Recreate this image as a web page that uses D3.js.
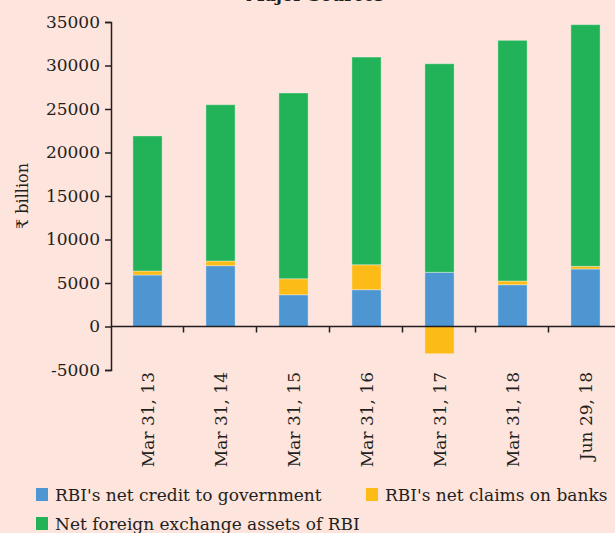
<!DOCTYPE html>
<html>
<head>
<meta charset="utf-8">
<script src="https://cdn.jsdelivr.net/npm/d3@7"></script>
<style>
  body { margin: 0; background: #fde4dc; }
  svg { display: block; }
</style>
</head>
<body>
<div id="my_dataviz"></div>
<script>
var categories = ["Mar 31, 13", "Mar 31, 14", "Mar 31, 15", "Mar 31, 16", "Mar 31, 17", "Mar 31, 18", "Jun 29, 18"];
var netCreditGovt = [5920, 6990, 3650, 4230, 6230, 4800, 6610];
var netClaimsBanks = [460, 540, 1840, 2870, -3130, 430, 310];
var netForeignAssets = [15520, 17960, 21350, 23870, 23970, 27660, 27770];
var seriesNames = ["RBI's net credit to government", "RBI's net claims on banks", "Net foreign exchange assets of RBI"];
var seriesColors = ["#4d96d2", "#fdbb18", "#22b257"];
var yTicks = [-5000, 0, 5000, 10000, 15000, 20000, 25000, 30000, 35000];

function draw_reserve_money_chart() {
    var width = 615, height = 533;
    var fontFamily = "'DejaVu Serif', serif";

    var rows = categories.map(function(c, i) {
        return { cat: c, s0: netCreditGovt[i], s1: netClaimsBanks[i], s2: netForeignAssets[i] };
    });

    var stack = d3.stack()
        .keys(["s0", "s1", "s2"])
        .offset(d3.stackOffsetDiverging);
    var layers = stack(rows);

    var svg = d3.select("#my_dataviz").append("svg")
        .attr("width", width)
        .attr("height", height)
        .style("background-color", "#fde4dc");

    var x = d3.scaleBand()
        .domain(categories)
        .range([111, 111 + 73 * categories.length])
        .paddingInner(0.6)
        .paddingOuter(0.3);

    var y = d3.scaleLinear()
        .domain([-5000, 35000])
        .range([370, 22]);

    // title, mostly cut off at the top edge (as in the source picture)
    svg.append("text")
        .attr("x", 246)
        .attr("y", 0.5)
        .style("font-family", fontFamily)
        .style("font-weight", "bold")
        .style("font-size", "17px")
        .style("fill", "#231f20")
        .text("Major Sources");

    // bars
    svg.append("g")
        .attr("class", "bars")
        .selectAll("g")
        .data(layers)
        .enter()
        .append("g")
        .attr("fill", function(d, i) { return seriesColors[i]; })
        .selectAll("rect")
        .data(function(d) { return d; })
        .enter()
        .append("rect")
        .attr("x", function(d) { return x(d.data.cat); })
        .attr("y", function(d) { return y(Math.max(d[0], d[1])); })
        .attr("width", x.bandwidth())
        .attr("height", function(d) { return Math.abs(y(d[0]) - y(d[1])); })
        .attr("stroke", "#ffffff")
        .attr("stroke-opacity", 0.35)
        .attr("stroke-width", 1);

    // y axis
    var yAxis = svg.append("g")
        .attr("class", "y-axis")
        .attr("transform", "translate(111,0)")
        .call(d3.axisLeft(y).tickValues(yTicks).tickSize(6).tickPadding(5)
            .tickFormat(function(d) { return String(d); }));
    yAxis.select(".domain").attr("stroke", "#231f20").attr("stroke-width", 1.5);
    yAxis.selectAll(".tick line").attr("stroke", "#231f20").attr("stroke-width", 1.5);
    yAxis.selectAll(".tick text")
        .style("font-family", fontFamily)
        .style("font-size", "17px")
        .style("fill", "#231f20");

    // x axis at zero
    var xAxis = svg.append("g")
        .attr("class", "x-axis")
        .attr("transform", "translate(0," + y(0) + ")");
    xAxis.append("line")
        .attr("x1", 111)
        .attr("x2", width)
        .attr("stroke", "#231f20")
        .attr("stroke-width", 1.5);
    xAxis.selectAll(".sep")
        .data(categories.slice(1))
        .enter()
        .append("line")
        .attr("class", "sep")
        .attr("x1", function(d) { return x(d) - x.step() * 0.3 - 0.5; })
        .attr("x2", function(d) { return x(d) - x.step() * 0.3 - 0.5; })
        .attr("y1", 0)
        .attr("y2", 6)
        .attr("stroke", "#231f20")
        .attr("stroke-width", 1.5);

    // category labels
    svg.append("g")
        .attr("class", "x-labels")
        .selectAll("text")
        .data(categories)
        .enter()
        .append("text")
        .attr("transform", function(d) {
            return "translate(" + (x(d) + x.bandwidth() / 2 + 6) + ",372) rotate(-90)";
        })
        .style("text-anchor", "end")
        .style("font-family", fontFamily)
        .style("font-size", "17px")
        .style("fill", "#231f20")
        .text(function(d) { return d; });

    // y axis title
    svg.append("text")
        .attr("transform", "translate(28,196) rotate(-90)")
        .style("text-anchor", "middle")
        .style("font-family", fontFamily)
        .style("font-size", "16px")
        .style("fill", "#231f20")
        .text("₹ billion");

    // legend
    var legendPos = [[36, 488], [366, 488], [36, 517]];
    var legend = svg.append("g")
        .attr("class", "legend")
        .selectAll("g")
        .data(seriesNames)
        .enter()
        .append("g")
        .attr("transform", function(d, i) { return "translate(" + legendPos[i][0] + "," + legendPos[i][1] + ")"; });
    legend.append("rect")
        .attr("width", 12)
        .attr("height", 13)
        .attr("fill", function(d, i) { return seriesColors[i]; });
    legend.append("text")
        .attr("x", 19)
        .attr("y", 13)
        .style("font-family", fontFamily)
        .style("font-size", "17px")
        .style("fill", "#231f20")
        .text(function(d) { return d; });
}

draw_reserve_money_chart();
</script>
</body>
</html>
